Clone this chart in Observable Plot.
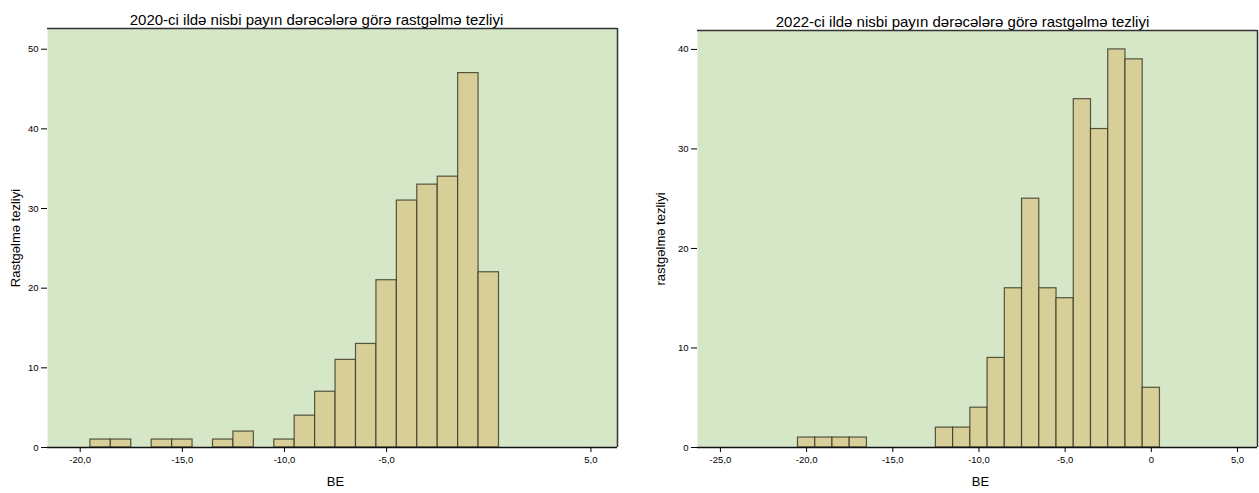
<!DOCTYPE html>
<html><head><meta charset="utf-8">
<script src="https://cdn.jsdelivr.net/npm/d3@7"></script>
<script src="https://cdn.jsdelivr.net/npm/@observablehq/plot@0.6"></script>
<style>
body{margin:0;background:#fff;font-family:"Liberation Sans",Arial,sans-serif}
#wrap{display:flex;width:1259px;height:493px}
</style>
</head><body><div id="wrap"></div>
<script>
// 2020 histogram: bin centres and counts
const bins2020 = [-19,-18,-17,-16,-15,-14,-13,-12,-11,-10,-9,-8,-7,-6,-5,-4,-3,-2,-1,0];
const counts2020 = [1,1,0,1,1,0,1,2,0,1,4,7,11,13,21,31,33,34,47,22];
const xTicks2020 = [-20,-15,-10,-5,5];
const xLabels2020 = ["-20,0","-15,0","-10,0","-5,0","5,0"];
const yTicks2020 = [0,10,20,30,40,50];
const title2020 = "2020-ci ildə nisbi payın dərəcələrə görə rastgəlmə tezliyi";
const yLabel2020 = "Rastgəlmə tezliyi";

// 2022 histogram
const bins2022 = [-20,-19,-18,-17,-16,-15,-14,-13,-12,-11,-10,-9,-8,-7,-6,-5,-4,-3,-2,-1,0];
const counts2022 = [1,1,1,1,0,0,0,0,2,2,4,9,16,25,16,15,35,32,40,39,6];
const xTicks2022 = [-25,-20,-15,-10,-5,0,5];
const xLabels2022 = ["-25,0","-20,0","-15,0","-10,0","-5,0","0","5,0"];
const yTicks2022 = [0,10,20,30,40];
const title2022 = "2022-ci ildə nisbi payın dərəcələrə görə rastgəlmə tezliyi";
const yLabel2022 = "rastgəlmə tezliyi";
const xLabel = "BE";

function chart(c) {
  const data = c.bins.map((b, i) => ({x1: b - 0.5, x2: b + 0.5, n: c.counts[i]})).filter(d => d.n > 0);
  const fmt = new Map(c.xTicks.map((t, i) => [t, c.xLabels[i]]));
  return Plot.plot({
    width: c.width, height: 493,
    marginLeft: c.ml, marginRight: c.mr, marginTop: c.mt, marginBottom: 46,
    style: {fontFamily: "Liberation Sans, Arial, sans-serif", fontSize: "9px", color: "#000", background: "#fff"},
    x: {domain: c.xDomain},
    y: {domain: c.yDomain},
    marks: [
      Plot.frame({fill: "#d6e7c8", stroke: null}),
      Plot.rectY(data, {x1: "x1", x2: "x2", y: "n", fill: "#d7cf97", stroke: "#3c3c2c", strokeWidth: 1.2, strokeOpacity: 0.85}),
      Plot.ruleY([c.yDomain[1]], {stroke: "#333", strokeWidth: 1.5}),
      Plot.ruleX([c.xDomain[1]], {stroke: "#333", strokeWidth: 1.5}),
      Plot.ruleY([0], {stroke: "#111", strokeWidth: 1.3}),
      Plot.axisX({ticks: c.xTicks, tickFormat: d => fmt.get(d), tickSize: 5, tickPadding: 4, label: null, fontSize: 9.5}),
      Plot.axisY({ticks: c.yTicks, tickSize: 6, tickPadding: 3, label: null, fontSize: 9.5}),
      Plot.text([c.title], {frameAnchor: "top", textAnchor: "middle", dy: -14, dx: c.tdx, fontSize: c.tfs, fill: "#000"}),
      Plot.text([c.yLabel], {frameAnchor: "left", textAnchor: "middle", dx: c.ydx, rotate: -90, fontSize: 13, fill: "#000"}),
      Plot.text([xLabel], {frameAnchor: "bottom", textAnchor: "middle", dy: 38, dx: c.xdx, fontSize: 13, fontWeight: 500, fill: "#000"})
    ]
  });
}

const wrap = document.getElementById("wrap");
wrap.append(chart({
  width: 630, ml: 47, mr: 13, mt: 28,
  bins: bins2020, counts: counts2020, xTicks: xTicks2020, xLabels: xLabels2020, yTicks: yTicks2020,
  xDomain: [-21.6, 6.3], yDomain: [0, 52.6], title: title2020, yLabel: yLabel2020,
  tdx: -16, ydx: -32, xdx: 3, tfs: 15
}));
wrap.append(chart({
  width: 629, ml: 67, mr: 2, mt: 30,
  bins: bins2022, counts: counts2022, xTicks: xTicks2022, xLabels: xLabels2022, yTicks: yTicks2022,
  xDomain: [-26.33, 6.16], yDomain: [0, 41.9], title: title2022, yLabel: yLabel2022,
  tdx: -15, ydx: -37, xdx: 3, tfs: 15
}));
</script>
</body></html>
